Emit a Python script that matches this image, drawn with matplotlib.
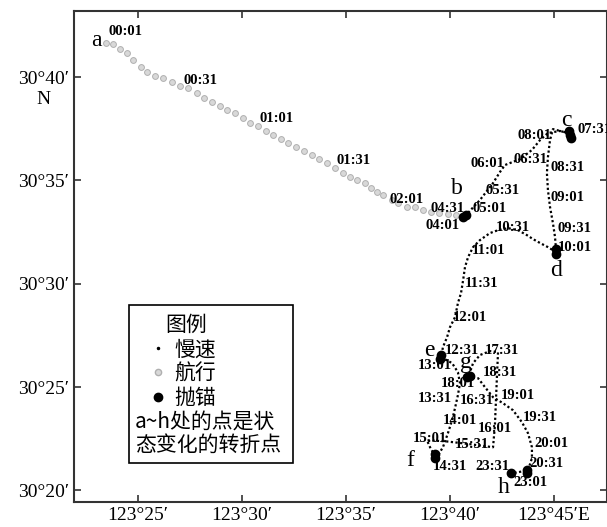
import matplotlib.pyplot as plt
from matplotlib.lines import Line2D
from matplotlib.patches import Rectangle

plt.rcParams['font.family'] = ['Liberation Serif', 'DejaVu Serif']
cjk = ['Noto Sans CJK SC', 'DejaVu Sans']

# longitude = 123°xx', latitude = 30°yy' (values in minutes)
# sailing points (gray)
gray_lon = [23.46, 23.80, 24.13, 24.47, 24.76, 25.14, 25.43, 25.82, 26.20, 26.63,
            27.02, 27.40, 27.84, 28.17, 28.56, 28.94, 29.28, 29.66, 30.05, 30.38,
            30.77, 31.15, 31.49, 31.88, 32.21, 32.60, 32.98, 33.37, 33.70, 34.09,
            34.47, 34.86, 35.19, 35.53, 35.91, 36.20, 36.49, 36.78, 37.21, 37.50,
            37.93, 38.32, 38.70, 39.09, 39.47, 39.90, 40.29]
gray_lat = [41.65, 41.60, 41.36, 41.16, 40.82, 40.48, 40.24, 40.05, 39.95, 39.76,
            39.56, 39.47, 39.23, 38.98, 38.79, 38.60, 38.40, 38.26, 38.02, 37.77,
            37.63, 37.39, 37.19, 37.00, 36.81, 36.61, 36.42, 36.22, 36.03, 35.84,
            35.60, 35.35, 35.16, 35.01, 34.87, 34.63, 34.43, 34.29, 34.05, 33.90,
            33.71, 33.71, 33.56, 33.47, 33.42, 33.37, 33.32]

# slow track, b -> c -> d -> e -> f -> g -> h
bc_lon = [40.72, 41.44, 42.07, 42.40, 42.64, 43.37, 43.94, 44.33, 44.71, 45.29, 45.67]
bc_lat = [33.27, 34.05, 34.87, 35.40, 35.74, 36.03, 36.47, 36.95, 37.29, 37.39, 37.29]
cd_lon = [45.67, 44.95, 44.81, 44.71, 44.66, 44.71, 44.81, 44.95, 45.05, 45.10]
cd_lat = [37.29, 37.48, 36.95, 36.13, 35.35, 34.53, 33.71, 32.93, 32.26, 31.63]
de_lon = [45.10, 44.71, 44.33, 43.99, 43.70, 43.27, 42.79, 42.31, 41.92, 41.44, 41.11,
          40.87, 40.72, 40.63, 40.53, 40.38, 40.24, 40.00, 39.86, 39.66, 39.57]
de_lat = [31.53, 31.77, 31.97, 32.16, 32.35, 32.59, 32.69, 32.59, 32.45, 32.11, 31.77,
          31.29, 30.80, 30.17, 29.55, 29.06, 28.38, 27.90, 27.42, 26.93, 26.45]
ef_lon = [39.57, 40.10, 40.38, 40.48, 40.38, 40.24, 40.10, 39.90, 39.66, 39.42, 39.28]
ef_lat = [26.45, 26.16, 25.72, 25.19, 24.61, 23.98, 23.40, 22.77, 22.09, 21.70, 21.65]
fg_lon = [39.28, 39.04, 38.89, 39.76, 40.96, 42.07, 42.16, 42.21, 42.26, 42.31, 41.92,
          41.44, 41.11, 40.96, 40.87]
fg_lat = [21.65, 22.09, 22.43, 22.38, 22.24, 22.09, 23.16, 24.37, 25.58, 26.69, 26.74,
          26.55, 26.16, 25.72, 25.48]
gh_lon = [40.87, 41.35, 41.68, 42.07, 42.55, 43.03, 43.46, 43.75, 43.94, 43.94, 43.75,
          43.27, 42.93]
gh_lat = [25.48, 25.43, 25.00, 24.51, 24.22, 23.88, 23.30, 22.77, 22.09, 21.56, 20.98,
          20.88, 20.83]

# anchored points
anchor_lon = [40.63, 40.77, 45.72, 45.77, 45.82, 45.10, 45.10, 39.57, 39.52,
              39.28, 39.28, 40.82, 40.96, 42.93, 43.70, 43.70]
anchor_lat = [33.22, 33.32, 37.39, 37.19, 37.05, 31.67, 31.43, 26.55, 26.36,
              21.75, 21.56, 25.48, 25.53, 20.83, 20.98, 20.83]

# turning point names
turn_names = ['a', 'b', 'c', 'd', 'e', 'f', 'g', 'h']
turn_lon = [22.98, 40.34, 45.58, 45.10, 38.99, 38.08, 40.77, 42.60]
turn_lat = [41.79, 34.63, 37.92, 30.66, 26.79, 21.46, 26.21, 20.15]

# time labels
time_text = ['00:01', '00:31', '01:01', '01:31', '02:01', '04:31', '05:01', '04:01',
             '05:31', '06:01', '06:31', '08:01', '07:31', '08:31', '09:01', '09:31',
             '10:01', '10:31', '11:01', '11:31', '12:01', '12:31', '17:31', '13:01',
             '18:31', '18:01', '13:31', '16:31', '19:01', '19:31', '14:01', '16:01',
             '15:01', '15:31', '20:01', '14:31', '23:31', '20:31', '23:01']
time_lon = [24.38, 27.98, 31.68, 35.34, 37.93, 39.86, 41.92, 39.66,
            42.55, 41.78, 43.85, 44.09, 46.97, 45.67, 45.67, 46.01,
            46.01, 43.03, 41.83, 41.54, 40.96, 40.58, 42.50, 39.28,
            42.40, 40.38, 39.28, 41.30, 43.27, 44.33, 40.48, 42.16,
            39.04, 41.06, 44.86, 40.00, 42.02, 44.66, 43.85]
time_lat = [42.18, 39.85, 37.97, 35.98, 34.09, 33.66, 33.66, 32.84,
            34.53, 35.84, 36.03, 37.19, 37.48, 35.64, 34.19, 32.69,
            31.77, 32.74, 31.63, 30.03, 28.38, 26.79, 26.79, 26.06,
            25.72, 25.19, 24.46, 24.37, 24.61, 23.54, 23.40, 23.01,
            22.53, 22.24, 22.28, 21.17, 21.17, 21.32, 20.40]

x_ticks = [25, 30, 35, 40, 45]
x_labels = ['123°25′', '123°30′', '123°35′', '123°40′', '123°45′E']
y_ticks = [20, 25, 30, 35, 40]
y_labels = ['30°20′', '30°25′', '30°30′', '30°35′', '30°40′']

fig = plt.figure(figsize=(6.07, 5.27), dpi=100)
ax = fig.add_axes([0.122, 0.047, 0.878, 0.932])

ax.plot(gray_lon, gray_lat, ls='none', marker='o', markersize=4.2,
        mfc='#d8d8d8', mec='#b0b0b0', mew=0.7)
for lon, lat in [(bc_lon, bc_lat), (cd_lon, cd_lat), (de_lon, de_lat),
                 (ef_lon, ef_lat), (fg_lon, fg_lat), (gh_lon, gh_lat)]:
    ax.plot(lon, lat, color='black', ls=(0, (1, 1.1)), lw=1.6)
ax.plot(anchor_lon, anchor_lat, ls='none', marker='o', markersize=6, color='black')

for t, x, y in zip(time_text, time_lon, time_lat):
    ax.text(x, y, t, ha='center', va='center', fontsize=10.5, fontweight='bold')
for t, x, y in zip(turn_names, turn_lon, turn_lat):
    ax.text(x, y, t, ha='center', va='center', fontsize=17)

ax.set_xlim(21.92, 47.55)
ax.set_ylim(19.43, 43.19)
ax.set_xticks(x_ticks)
ax.set_xticklabels(x_labels)
ax.set_yticks(y_ticks)
ax.set_yticklabels(y_labels)
ax.tick_params(direction='in', length=5, width=1.2, labelsize=14, top=True, right=True,
               color='#333333')
for s in ax.spines.values():
    s.set_linewidth(1.5)
    s.set_color('#333333')
ax.text(-0.058, 0.82, 'N', transform=ax.transAxes, ha='center', va='center', fontsize=14)

# legend box
ax.add_patch(Rectangle((0.104, 0.079), 0.307, 0.322, transform=ax.transAxes,
                       fill=False, lw=1.2, ec='black', zorder=5))
handles = [Line2D([], [], ls='none', marker='.', color='black', markersize=3),
           Line2D([], [], ls='none', marker='o', mfc='#d8d8d8', mec='#b0b0b0', markersize=4.5),
           Line2D([], [], ls='none', marker='o', color='black', markersize=6)]
leg = ax.legend(handles, ['慢速', '航行', '抛锚'], title='图例', loc='upper left',
                bbox_to_anchor=(0.118, 0.405), frameon=False, borderpad=0,
                prop={'family': cjk, 'size': 15},
                title_fontproperties={'family': cjk, 'size': 15},
                handlelength=1.0, handletextpad=0.3, labelspacing=0.12)
leg._legend_box.align = 'left'
leg.get_title().set_position((18, 0))
ax.text(0.114, 0.185, 'a~h处的点是状\n态变化的转折点', transform=ax.transAxes,
        va='top', ha='left', family=cjk, fontsize=15, linespacing=1.0)

fig.savefig('out.png', dpi=100)
